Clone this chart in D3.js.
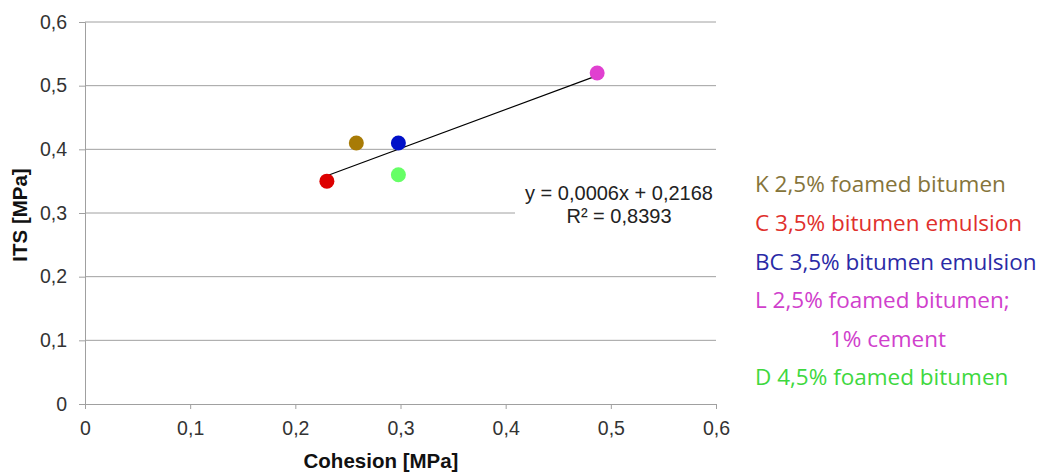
<!DOCTYPE html>
<html><head><meta charset="utf-8">
<script src="https://cdn.jsdelivr.net/npm/d3@7"></script>
<style>body{margin:0;background:#fff}svg{display:block}</style>
</head><body>
<svg id="c" width="1048" height="473"></svg>
<script>
const names = ["K 2,5% foamed bitumen","C 3,5% bitumen emulsion","BC 3,5% bitumen emulsion","L 2,5% foamed bitumen; 1% cement","D 4,5% foamed bitumen"];
const cohesion = [0.258, 0.23, 0.298, 0.487, 0.298];
const its = [0.41, 0.35, 0.41, 0.52, 0.36];
const pointColors = ["#a87b06","#dd0000","#0010c8","#e040d0","#66ff66"];
const legendLines = [["K 2,5% foamed bitumen",0],["C 3,5% bitumen emulsion",1],["BC 3,5% bitumen emulsion",2],["L 2,5% foamed bitumen;",3],["1% cement",3],["D 4,5% foamed bitumen",4]];
const legendColors = ["#85743a","#e0302c","#2a2aa6","#d040cc","#3ed83e"];
const xTicks = [0,0.1,0.2,0.3,0.4,0.5,0.6];
const yTicks = [0,0.1,0.2,0.3,0.4,0.5,0.6];
const eqText = ["y = 0,0006x + 0,2168","R² = 0,8393"];

const svg = d3.select("#c");
const x = d3.scaleLinear().domain([0,0.6]).range([85,716]);
const y = d3.scaleLinear().domain([0,0.6]).range([404,22]);
const fmt = d => d===0 ? "0" : d3.format(".1f")(d).replace(".",",");
const font = "'Liberation Sans', Arial, sans-serif";

// gridlines
svg.append("g").selectAll("line").data(yTicks.filter(d=>d>0)).join("line")
  .attr("x1",x(0)).attr("x2",x(0.6)).attr("y1",d=>y(d)).attr("y2",d=>y(d))
  .attr("stroke","#a0a0a0").attr("stroke-width",1);

const xa = svg.append("g").attr("transform",`translate(0,${y(0)})`)
  .call(d3.axisBottom(x).tickValues(xTicks).tickFormat(fmt).tickSize(5).tickPadding(12));
const ya = svg.append("g").attr("transform",`translate(${x(0)},0)`)
  .call(d3.axisLeft(y).tickValues(yTicks).tickFormat(fmt).tickSize(6).tickPadding(12));
[xa,ya].forEach(a=>{
  a.selectAll("path,line").attr("stroke","#a0a0a0");
  a.selectAll("text").attr("font-family",font).attr("font-size",19.5).attr("fill","#333");
});

// regression
const n = cohesion.length;
const mx = d3.mean(cohesion), my = d3.mean(its);
let sxy=0,sxx=0;
for(let i=0;i<n;i++){sxy+=(cohesion[i]-mx)*(its[i]-my);sxx+=(cohesion[i]-mx)**2;}
const b = sxy/sxx, a0 = my-b*mx;
const x0 = d3.min(cohesion), x1 = d3.max(cohesion);
svg.append("line").attr("x1",x(x0)).attr("y1",y(a0+b*x0)).attr("x2",x(x1)).attr("y2",y(a0+b*x1))
  .attr("stroke","#000").attr("stroke-width",1.2);

// equation label with white box
const eq = svg.append("g");
eq.append("rect").attr("x",515).attr("y",180).attr("width",201).attr("height",48).attr("fill","#fff");
eq.selectAll("text").data(eqText).join("text")
  .attr("x",619).attr("y",(d,i)=>200+i*23).attr("text-anchor","middle")
  .attr("font-family",font).attr("font-size",20).attr("fill","#222").text(d=>d);

// points
svg.append("g").selectAll("circle").data(cohesion).join("circle")
  .attr("cx",d=>x(d)).attr("cy",(d,i)=>y(its[i])).attr("r",7.5)
  .attr("fill",(d,i)=>pointColors[i]);

// axis titles
svg.append("text").attr("x",381).attr("y",468).attr("text-anchor","middle")
  .attr("font-family",font).attr("font-weight","bold").attr("font-size",20.5).attr("fill","#111").text("Cohesion [MPa]");
svg.append("text").attr("transform","translate(27,215) rotate(-90)").attr("text-anchor","middle")
  .attr("font-family",font).attr("font-weight","bold").attr("font-size",20.5).attr("fill","#111").text("ITS [MPa]");

// legend
const ly = [192,231,270,308,347,385];
svg.append("g").selectAll("text").data(legendLines).join("text")
  .attr("x",(d,i)=> i===4 ? 830 : 755).attr("y",(d,i)=>ly[i])
  .attr("font-family","'Open Sans', sans-serif").attr("font-size",22.5)
  .attr("fill",d=>legendColors[d[1]]).text(d=>d[0]);
</script>
</body></html>
